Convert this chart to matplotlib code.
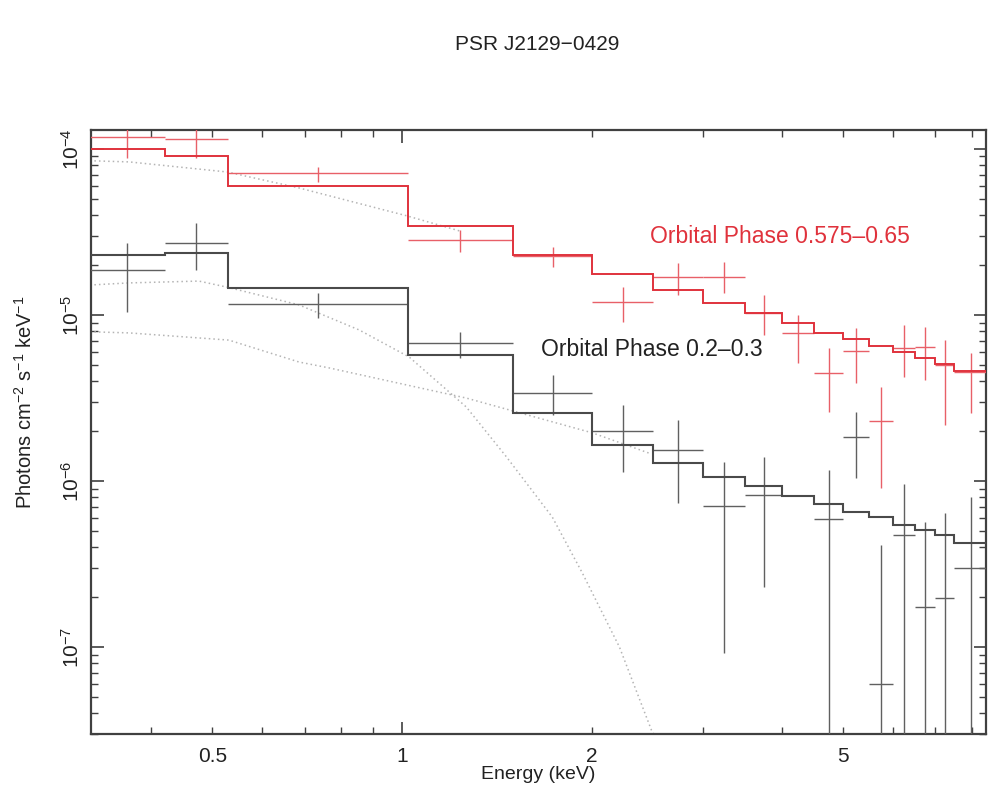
import numpy as np
import matplotlib
matplotlib.use("Agg")
import matplotlib.pyplot as plt
from matplotlib.ticker import FixedLocator, FuncFormatter, NullFormatter

plt.rcParams["font.family"] = ["Liberation Sans", "DejaVu Sans"]
plt.rcParams["mathtext.fontset"] = "custom"
plt.rcParams["mathtext.rm"] = "Liberation Sans"
plt.rcParams["mathtext.it"] = "Liberation Sans:italic"

# Spectral bin edges (keV)
bin_edges = [0.32, 0.42, 0.53, 1.02, 1.5, 2.0, 2.5, 3.0, 3.5, 4.0,
             4.5, 5.0, 5.5, 6.0, 6.5, 7.0, 7.5, 8.5]

# Orbital phase 0.575-0.65: folded model and unfolded data
red_model = [1.00e-4, 9.08e-5, 5.99e-5, 3.43e-5, 2.30e-5, 1.77e-5, 1.42e-5,
             1.18e-5, 1.03e-5, 8.95e-6, 7.80e-6, 7.17e-6, 6.50e-6, 5.98e-6,
             5.51e-6, 5.07e-6, 4.60e-6]
red_flux = [1.18e-4, 1.15e-4, 7.17e-5, 2.83e-5, 2.27e-5, 1.20e-5, 1.69e-5,
            1.69e-5, 1.03e-5, 7.80e-6, 4.48e-6, 6.07e-6, 2.30e-6, 6.32e-6,
            6.41e-6, 5.00e-6, 4.54e-6]
red_hi = [1.46e-4, 1.44e-4, 7.79e-5, 3.25e-5, 2.57e-5, 1.47e-5, 2.06e-5,
          2.08e-5, 1.32e-5, 1.00e-5, 6.32e-6, 8.35e-6, 3.68e-6, 8.71e-6,
          8.47e-6, 7.06e-6, 5.90e-6]
red_lo = [8.82e-5, 8.82e-5, 6.33e-5, 2.40e-5, 1.95e-5, 9.08e-6, 1.32e-5,
          1.36e-5, 7.59e-6, 5.14e-6, 2.61e-6, 3.89e-6, 9.08e-7, 4.23e-6,
          4.06e-6, 2.17e-6, 2.57e-6]

# Orbital phase 0.2-0.3 (nan = empty bin, 1e-12 = lower bound at zero)
blk_model = [2.30e-5, 2.36e-5, 1.46e-5, 5.74e-6, 2.57e-6, 1.65e-6, 1.28e-6,
             1.06e-6, 9.33e-7, 8.12e-7, 7.27e-7, 6.50e-7, 6.07e-7, 5.43e-7,
             5.07e-7, 4.73e-7, 4.23e-7]
blk_flux = [1.87e-5, 2.72e-5, 1.16e-5, 6.78e-6, 3.39e-6, 2.00e-6, 1.54e-6,
            7.06e-7, 8.24e-7, np.nan, 5.90e-7, 1.84e-6, 5.98e-8, 4.73e-7,
            1.74e-7, 1.97e-7, 2.99e-7]
blk_hi = [2.72e-5, 3.58e-5, 1.36e-5, 7.90e-6, 4.35e-6, 2.87e-6, 2.33e-6,
          1.30e-6, 1.40e-6, np.nan, 1.16e-6, 2.61e-6, 4.11e-7, 9.59e-7,
          5.66e-7, 6.41e-7, 8.02e-7]
blk_lo = [1.04e-5, 1.87e-5, 9.59e-6, 5.51e-6, 2.50e-6, 1.13e-6, 7.36e-7,
          9.20e-8, 2.30e-7, np.nan, 1e-12, 1.04e-6, 1e-12, 1e-12,
          1e-12, 1e-12, 1e-12]

# Model components (dotted)
bb_energy = [0.325, 0.369, 0.476, 0.528, 0.686, 0.855, 1.026, 1.264, 1.463,
             1.730, 1.931, 2.211, 2.485, 2.52]
bb_flux = [1.52e-5, 1.56e-5, 1.60e-5, 1.47e-5, 1.15e-5, 8.12e-6, 5.58e-6,
           2.79e-6, 1.40e-6, 6.07e-7, 2.79e-7, 1.00e-7, 3.16e-8, 2.9e-8]
pl_blk_energy = [0.325, 0.369, 0.531, 0.686, 0.766, 1.264, 2.003, 2.467]
pl_blk_flux = [7.91e-6, 7.80e-6, 7.06e-6, 5.21e-6, 4.80e-6, 3.16e-6, 1.95e-6,
               1.47e-6]
pl_red_energy = [0.325, 0.369, 0.528, 0.686, 1.018, 1.232]
pl_red_flux = [8.47e-5, 8.35e-5, 7.26e-5, 5.82e-5, 3.95e-5, 3.21e-5]

RED = "#e0323c"
RED_DATA = "#e86068"
DARK = "#4a4a4a"
GREY_DATA = "#606060"
DOT = "#b4b4b4"

fig = plt.figure(figsize=(9.88, 7.93), dpi=100)
ax = fig.add_axes([0.0921, 0.0744, 0.9059, 0.7617])
ax.set_xscale("log")
ax.set_yscale("log")

edges = np.array(bin_edges)
centers = np.sqrt(edges[:-1] * edges[1:])
xerr = np.vstack([centers - edges[:-1], edges[1:] - centers])


def step_model(values, color, lw):
    v = np.asarray(values)
    ax.stairs(v, edges, color=color, lw=lw, baseline=None, zorder=4)


def crosses(flux, lo, hi, color):
    f = np.asarray(flux)
    yerr = np.vstack([f - np.asarray(lo), np.asarray(hi) - f])
    ax.errorbar(centers, f, xerr=xerr, yerr=yerr, fmt="none",
                ecolor=color, elinewidth=1.0, capsize=0, zorder=3)


ax.plot(bb_energy, bb_flux, ls=(0, (1, 2)), color=DOT, lw=1.1, zorder=2)
ax.plot(pl_blk_energy, pl_blk_flux, ls=(0, (1, 2)), color=DOT, lw=1.1, zorder=2)
ax.plot(pl_red_energy, pl_red_flux, ls=(0, (1, 2)), color=DOT, lw=1.1, zorder=2)

crosses(red_flux, red_lo, red_hi, RED_DATA)
crosses(blk_flux, blk_lo, blk_hi, GREY_DATA)
step_model(red_model, RED, 1.4)
step_model(blk_model, DARK, 1.5)

ax.set_xlim(0.321, 8.43)
ax.set_ylim(3.0e-8, 1.3e-4)

# x ticks: long tick at 1 keV, short ticks elsewhere, labels at 0.5, 1, 2, 5
ax.xaxis.set_major_locator(FixedLocator([1.0]))
ax.xaxis.set_minor_locator(FixedLocator([0.4, 0.5, 0.6, 0.7, 0.8, 0.9,
                                         2, 3, 4, 5, 6, 7, 8]))
ax.xaxis.set_major_formatter(FuncFormatter(lambda v, p: "1"))
labelled = {0.5: "0.5", 2: "2", 5: "5"}
ax.xaxis.set_minor_formatter(FuncFormatter(
    lambda v, p: labelled.get(round(v, 3), "")))

ax.yaxis.set_major_locator(FixedLocator([1e-7, 1e-6, 1e-5, 1e-4]))
ax.yaxis.set_minor_locator(FixedLocator(
    [m * 10.0 ** e for e in range(-8, -3) for m in range(2, 10)]))
ax.yaxis.set_major_formatter(FuncFormatter(
    lambda v, p: r"$10^{%d}$" % int(round(np.log10(v)))))
ax.yaxis.set_minor_formatter(NullFormatter())

ax.tick_params(which="both", direction="in", top=True, right=True,
               colors="#404040", labelcolor="#222222")
ax.tick_params(which="major", length=9, width=1.2, labelsize=15)
ax.tick_params(which="minor", length=5, width=1.0, labelsize=15)
ax.tick_params(axis="x", which="both", pad=9)
ax.tick_params(axis="y", which="both", pad=6)
for lab in ax.get_yticklabels():
    lab.set_rotation(90)
    lab.set_va("center")
for s in ax.spines.values():
    s.set_linewidth(1.6)
    s.set_color("#404040")

ax.set_xlabel("Energy (keV)", fontsize=14, color="#222222", labelpad=0)
ax.set_ylabel(r"Photons cm$^{-2}$ s$^{-1}$ keV$^{-1}$", fontsize=14.5,
              color="#222222")
ax.yaxis.set_label_coords(-0.062, 0.55)
fig.text(0.544, 0.944, "PSR J2129\u22120429", ha="center", va="center",
         fontsize=15, color="#222222")

ax.text(0.625, 0.823, "Orbital Phase 0.575\u20130.65", transform=ax.transAxes,
        color=RED, fontsize=16.5, ha="left", va="center")
ax.text(0.503, 0.637, "Orbital Phase 0.2\u20130.3", transform=ax.transAxes,
        color="#222222", fontsize=16.5, ha="left", va="center")

fig.savefig("out.png", dpi=100)
